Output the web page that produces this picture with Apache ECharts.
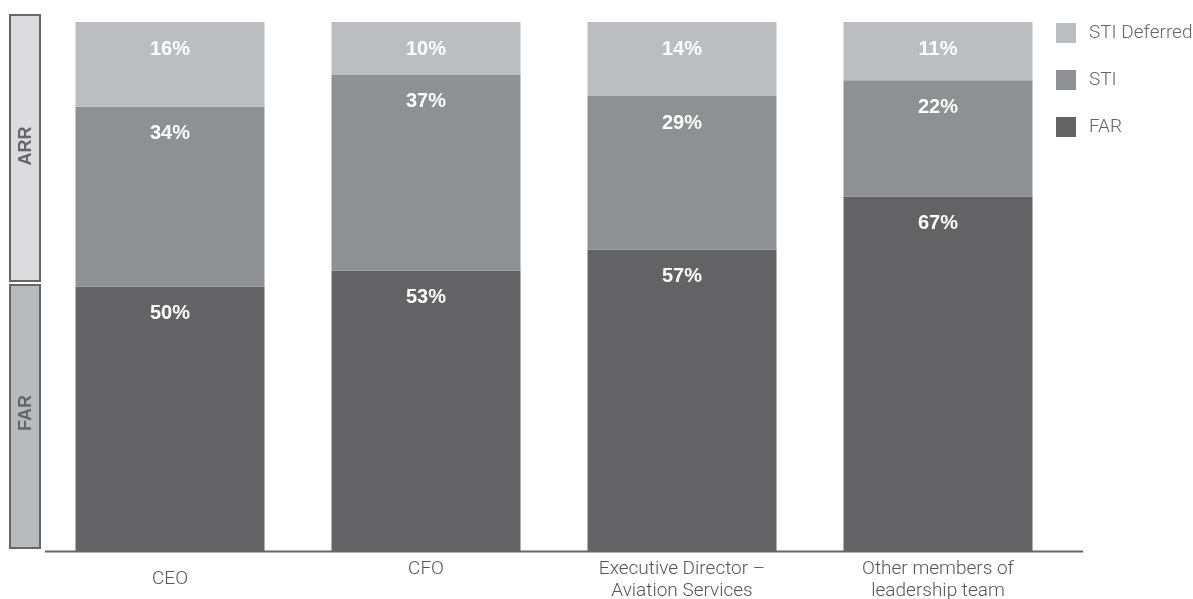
<!DOCTYPE html>
<html><head><meta charset="utf-8">
<script src="https://cdn.jsdelivr.net/npm/echarts@6/dist/echarts.min.js"></script>
<style>html,body{margin:0;padding:0;background:#fff}#c{width:1193px;height:599px}</style>
</head><body><div id="c"></div>
<script>
const categories = ['CEO', 'CFO', 'Executive Director –\nAviation Services', 'Other members of\nleadership team'];
const farValues = [50, 53, 57, 67];
const stiValues = [34, 37, 29, 22];
const stiDeferredValues = [16, 10, 14, 11];
const seriesNames = ['FAR', 'STI', 'STI Deferred'];
const colors = ['#636365', '#8f9094', '#bcbdc0'];

const chart = echarts.init(document.getElementById('c'));
const lbl = {
  show: true, position: 'insideTop', distance: 17,
  color: '#fff', fontWeight: 'bold', fontSize: 20, fontFamily: 'Liberation Sans',
  formatter: p => p.value + '%'
};
function mk(name, data, color) {
  return { name, type: 'bar', stack: 'a', data, barWidth: 189,
    itemStyle: { color }, label: lbl, emphasis: { disabled: true } };
}
const catData = categories.map((c, i) => i === 0 ? { value: c, textStyle: { padding: [10, 0, 0, 0] } } : c);
chart.setOption({
  animation: false,
  grid: { left: 42, right: 1193 - 1066, top: 22, bottom: 599 - 551, outerBoundsMode: 'none', containLabel: false },
  legend: {
    orient: 'vertical', left: 1051, top: 18, itemWidth: 20, itemHeight: 20, itemGap: 27,
    icon: 'rect',
    data: ['STI Deferred', 'STI', 'FAR'],
    textStyle: { color: '#666', fontSize: 19, fontFamily: 'Roboto', fontWeight: 300, padding: [0, 0, 0, 8] }
  },
  xAxis: {
    type: 'category', data: catData,
    axisLine: { show: false }, axisTick: { show: false },
    axisLabel: { color: '#555', fontSize: 19, fontFamily: 'Roboto', fontWeight: 300, lineHeight: 22, margin: 7, interval: 0 }
  },
  yAxis: { type: 'value', min: 0, max: 100, show: false, splitLine: { show: false } },
  series: [
    mk(seriesNames[0], farValues, colors[0]),
    mk(seriesNames[1], stiValues, colors[1]),
    mk(seriesNames[2], stiDeferredValues, colors[2])
  ],
  graphic: [
    { type: 'line', shape: { x1: 45, y1: 551.5, x2: 1083, y2: 551.5 }, style: { stroke: '#666', lineWidth: 2 }, z: 10 },
    { type: 'rect', shape: { x: 10, y: 15, width: 30, height: 266 }, style: { fill: '#dcdcde', stroke: '#666', lineWidth: 2 } },
    { type: 'rect', shape: { x: 10, y: 285, width: 30, height: 263 }, style: { fill: '#b9babd', stroke: '#666', lineWidth: 2 } },
    { type: 'text', x: 26, y: 146, rotation: Math.PI / 2, style: { text: 'ARR', fill: '#666', font: 'bold 18px "Liberation Sans"', align: 'center', verticalAlign: 'middle' } },
    { type: 'text', x: 26, y: 413, rotation: Math.PI / 2, style: { text: 'FAR', fill: '#666', font: 'bold 18px "Liberation Sans"', align: 'center', verticalAlign: 'middle' } }
  ]
});
</script></body></html>
